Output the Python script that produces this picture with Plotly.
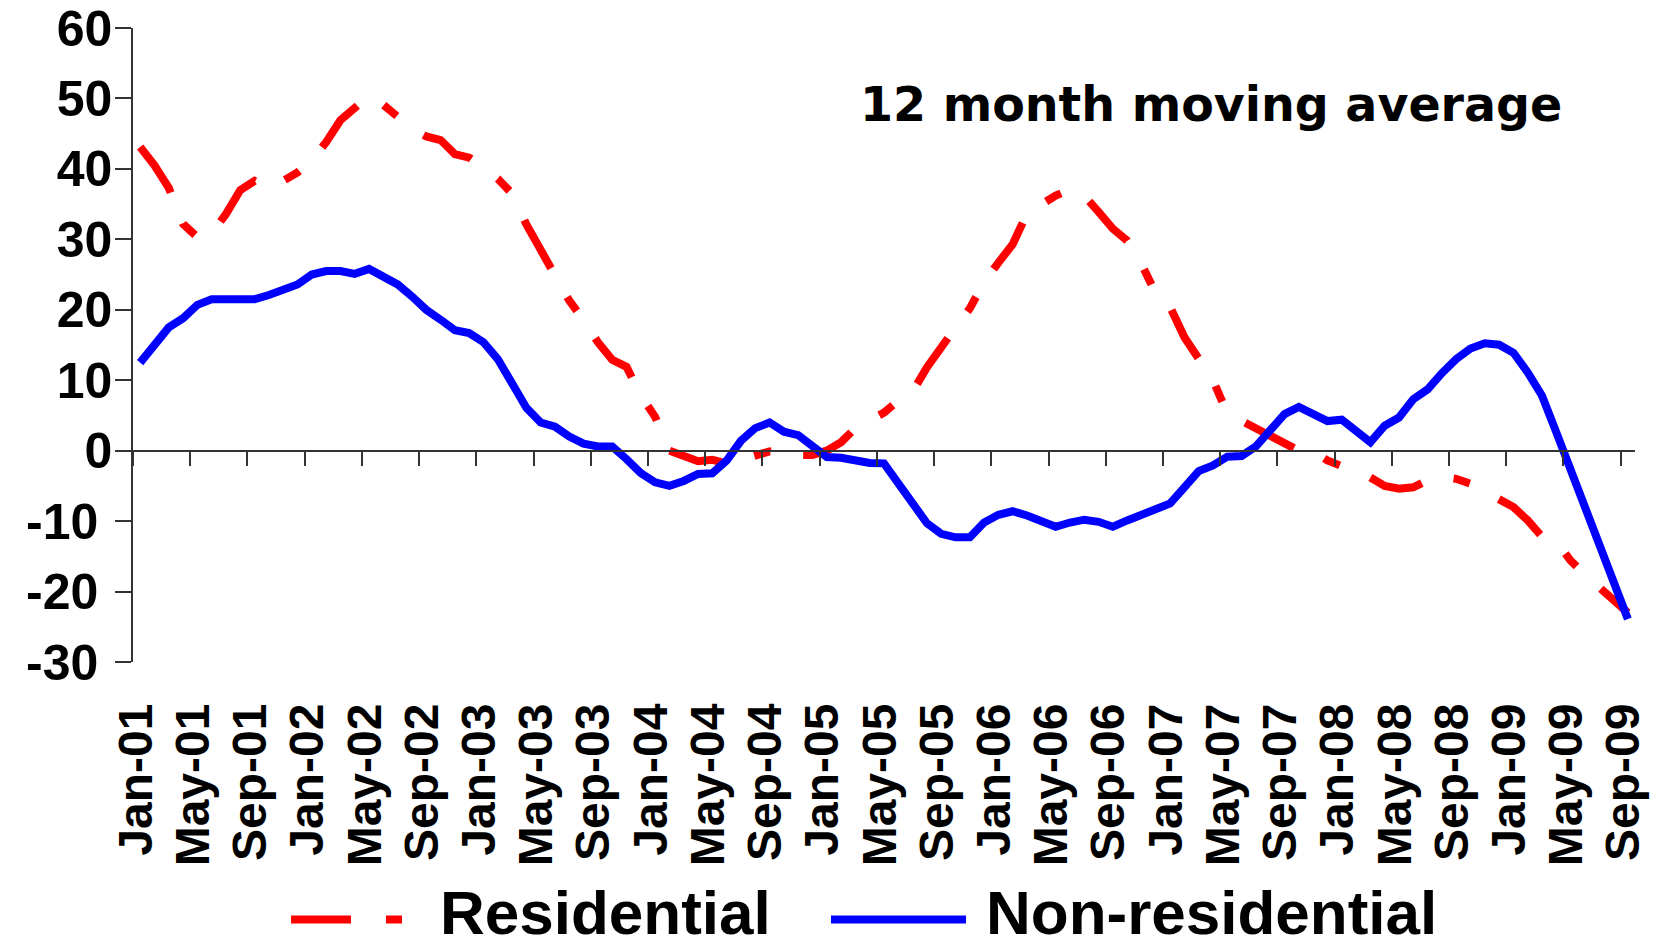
import pandas as pd
import plotly.graph_objects as go

# Monthly categories, Jan-01 .. Sep-09
months = pd.date_range("2001-01-01", "2009-09-01", freq="MS").strftime("%b-%y").tolist()

# 12 month moving average, % change
residential = [
    43.1, 40.5, 37.3, 32.2, 30.3, 30.8, 33.6, 37.0, 38.3, 37.3,
    38.3, 39.5, 41.2, 43.8, 46.9, 48.8, 50.4, 49.1, 47.5, 45.7,
    44.6, 44.1, 42.1, 41.6, 40.2, 38.6, 36.5, 32.1, 28.5, 25.0,
    21.3, 18.5, 15.4, 12.9, 11.9, 7.8, 4.8, 0.0, -0.9, -1.5,
    -1.3, -1.8, -1.3, -0.6, -0.1, -0.6, -0.5, -0.6, 0.0, 1.2,
    3.2, 4.3, 5.4, 7.1, 8.4, 11.8, 14.9, 17.5, 20.2, 23.9,
    26.7, 29.3, 33.7, 35.1, 36.2, 37.1, 36.2, 33.9, 31.5, 29.8,
    26.5, 22.3, 20.4, 16.1, 13.0, 10.0, 5.3, 4.3, 3.1, 2.0,
    1.0, 0.0, -0.1, -1.4, -2.2, -3.0, -3.8, -5.0, -5.4, -5.2,
    -4.2, -3.7, -4.0, -4.7, -5.8, -6.7, -8.0, -9.9, -12.2, -12.9,
    -15.6, -17.6, -19.4, -21.5, -23.0,
]

non_residential = [
    12.5, 15.0, 17.5, 18.8, 20.7, 21.5, 21.5, 21.5, 21.5, 22.1,
    22.9, 23.6, 25.0, 25.5, 25.5, 25.1, 25.8, 24.8, 23.6, 21.9,
    20.0, 18.6, 17.1, 16.7, 15.4, 13.0, 9.5, 6.1, 4.0, 3.4,
    2.0, 1.0, 0.6, 0.6, -1.2, -3.2, -4.5, -5.0, -4.3, -3.3,
    -3.2, -1.4, 1.4, 3.2, 4.0, 2.7, 2.2, 0.5, -0.9, -1.0,
    -1.4, -1.75, -1.8, -4.7, -7.8, -10.3, -11.8, -12.3, -12.3, -10.2,
    -9.1, -8.6, -9.2, -10.0, -10.8, -10.2, -9.8, -10.1, -10.8, -9.9,
    -9.1, -8.3, -7.5, -5.2, -2.9, -2.1, -0.85, -0.75, 0.6, 2.9,
    5.2, 6.2, 5.3, 4.2, 4.4, 2.8, 1.2, 3.55, 4.7, 7.3,
    8.7, 11.0, 13.0, 14.5, 15.25, 15.05, 13.9, 11.1, 7.8, 2.6,
    -2.8, -8.5, -13.5, -18.7, -23.9,
]

series_names = ["Residential", "Non-residential"]
y_tick_values = list(range(-30, 61, 10))
# negative labels carry a trailing space, as in the number format "0;-0 "
y_tick_text = [str(v) if v >= 0 else "-%d\u00a0" % abs(v) for v in y_tick_values]
label_step = 4

x = list(range(len(months)))
tick_marks = [k - 0.5 for k in range(0, len(months), label_step)]
label_pos = [k - 0.5 + 0.22 for k in range(0, len(months), label_step)]
label_text = months[::label_step]

RED = "#FF0000"
BLUE = "#0000FF"
AXIS = "#333333"
LINE_W = 8
DASH = "55px,33px,17px,33px"
KEY_DASH = "60px,35px,17px,35px"
FONT = "Liberation Sans, Arial, sans-serif"

fig = go.Figure()
fig.add_trace(go.Scatter(
    x=x, y=residential, name=series_names[0], mode="lines",
    line=dict(color=RED, width=LINE_W, dash=DASH), showlegend=False,
))
fig.add_trace(go.Scatter(
    x=x, y=non_residential, name=series_names[1], mode="lines",
    line=dict(color=BLUE, width=LINE_W), showlegend=False,
))
# carrier trace for the bottom label axis
fig.add_trace(go.Scatter(
    x=[x[0]], y=[0], xaxis="x2", yaxis="y", mode="markers",
    marker=dict(opacity=0), hoverinfo="skip", showlegend=False,
))

x_range = [-0.5, len(months) - 0.5]
y_range = [y_tick_values[0], y_tick_values[-1]]
zero_frac = (0 - y_range[0]) / (y_range[1] - y_range[0])

fig.update_layout(
    width=1655, height=949,
    margin=dict(l=133, r=20, t=28, b=287),
    paper_bgcolor="white", plot_bgcolor="white",
    xaxis=dict(
        range=x_range, anchor="free", position=zero_frac, automargin=False,
        showline=True, linecolor=AXIS, linewidth=1.5,
        ticks="outside", ticklen=15, tickwidth=1.5, tickcolor=AXIS,
        tickmode="array", tickvals=tick_marks, showticklabels=False,
        showgrid=False, zeroline=False,
    ),
    xaxis2=dict(
        range=x_range, overlaying="x", anchor="y", side="bottom",
        automargin=False,
        showline=False, ticks="", showgrid=False, zeroline=False,
        tickmode="array", tickvals=label_pos, ticktext=label_text,
        tickangle=-90, ticklabelstandoff=31,
        tickfont=dict(family=FONT, size=48, color="black", weight="bold"),
    ),
    yaxis=dict(
        range=y_range, tickmode="array", tickvals=y_tick_values,
        ticktext=y_tick_text, automargin=False, ticklabelstandoff=-7,
        showline=True, linecolor=AXIS, linewidth=1.5,
        ticks="outside", ticklen=16, tickwidth=1.5, tickcolor=AXIS,
        showgrid=False, zeroline=False,
        tickfont=dict(family=FONT, size=50, color="black", weight="bold"),
    ),
)

# chart heading
fig.add_annotation(
    text="12 month moving average", xref="paper", yref="paper",
    x=0.4827, y=0.879, xanchor="left", yanchor="middle", showarrow=False,
    font=dict(family="DejaVu Sans, Verdana, sans-serif", size=47.5,
              color="black", weight="bold"),
)

# key below the axis labels
key_line_y = -0.406
key_text_y = -0.4515
fig.add_shape(type="line", xref="paper", yref="paper",
              x0=0.1052, x1=0.1791, y0=key_line_y, y1=key_line_y,
              line=dict(color=RED, width=LINE_W, dash=KEY_DASH))
fig.add_shape(type="line", xref="paper", yref="paper",
              x0=0.4647, x1=0.5546, y0=key_line_y, y1=key_line_y,
              line=dict(color=BLUE, width=LINE_W))
for name, xpos in zip(series_names, [0.2037, 0.5672]):
    fig.add_annotation(
        text=name, xref="paper", yref="paper", x=xpos, y=key_text_y,
        xanchor="left", yanchor="bottom", showarrow=False, borderpad=0,
        font=dict(family=FONT, size=62, color="black", weight="bold"),
    )

fig.write_html("out.html", config={"displayModeBar": False})
